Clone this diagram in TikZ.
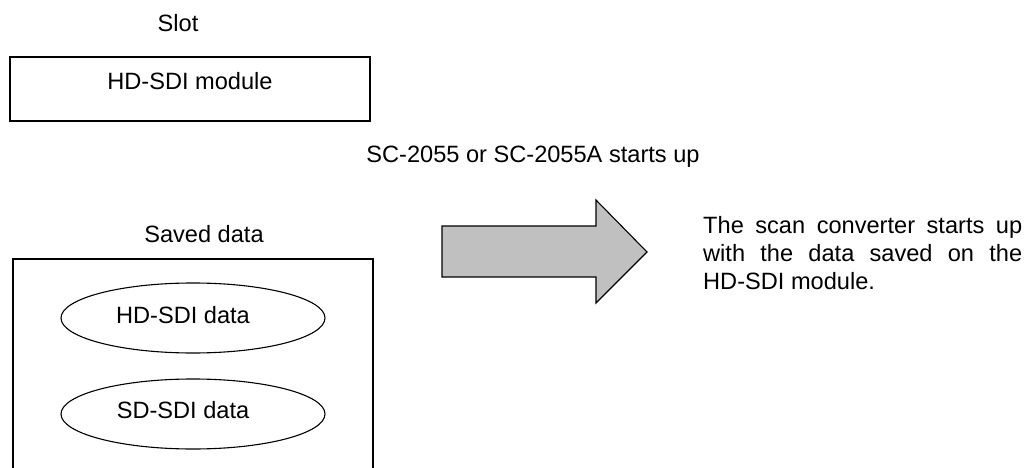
\documentclass[tikz,border=0pt]{standalone}
\usepackage{fontspec}
\setmainfont{Liberation Sans}
\usetikzlibrary{shapes.geometric}
\definecolor{arrowgray}{RGB}{192,192,192}
\newcommand{\fullline}[1]{\makebox[319pt][s]{#1}}
\begin{document}
\begin{tikzpicture}[x=1pt,y=-1pt,
  txt/.style={inner sep=0pt,font=\fontsize{23.6}{28}\selectfont},
  frame/.style={draw=black,line width=1.1pt},
  oval/.style={ellipse,draw=black,line width=1.1pt,inner sep=0pt,minimum width=264pt,minimum height=70pt}]
\useasboundingbox (0,0) rectangle (1036,468);
\clip (0,0) rectangle (1036,468);
% top part
\node[txt,anchor=base] (slot) at (178,32) {Slot};
\node[frame,inner sep=0pt,minimum width=360pt,minimum height=64pt] (module) at (190,89) {};
\node[txt,anchor=base] (modtxt) at (190,90) {HD-SDI module};
\node[txt,anchor=base] (starts) at (533,163) {SC-2055 or SC-2055A starts up};
% saved data box (open at the bottom)
\node[txt,anchor=base] (saved) at (204,242) {Saved data};
\coordinate (bl) at (13,470);
\coordinate (tl) at (13,259);
\coordinate (tr) at (373,259);
\coordinate (br) at (373,470);
\draw[frame] (bl) -- (tl) -- (tr) -- (br);
\node[oval] (hd) at (193,318) {};
\node[txt,anchor=base] (hdtxt) at (183,323) {HD-SDI data};
\node[oval] (sd) at (193,414) {};
\node[txt,anchor=base] (sdtxt) at (183,418) {SD-SDI data};
% block arrow
\draw[frame,fill=arrowgray,line join=miter]
  (442,226) -- (596,226) -- (596,200) -- (647,252) -- (596,303) -- (596,277) -- (442,277) -- cycle;
% result text
\node[txt,anchor=north west,align=left] (result) at (703,216)
  {\fullline{The scan converter starts up}\\
   \fullline{with the data saved on the}\\
   HD-SDI module.};
\end{tikzpicture}
\end{document}
